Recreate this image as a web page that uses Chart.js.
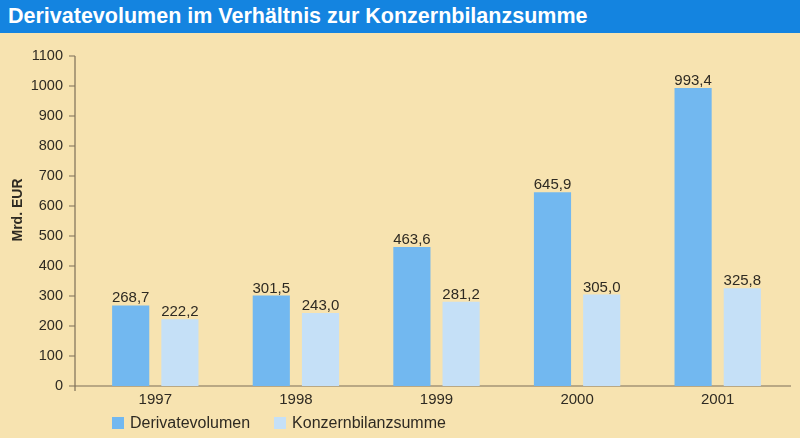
<!DOCTYPE html>
<html lang="de">
<head>
<meta charset="utf-8">
<title>Derivatevolumen im Verhältnis zur Konzernbilanzsumme</title>
<script src="https://cdn.jsdelivr.net/npm/chart.js@4.4.1/dist/chart.umd.min.js"></script>
<style>
    html, body { margin: 0; padding: 0; }
    body {
        width: 800px; height: 438px; position: relative; overflow: hidden;
        background: #f7e3b0;
        font-family: 'Liberation Sans', Arial, sans-serif;
    }
    #titlebar {
        position: absolute; left: 0; top: 0; width: 800px; height: 33px;
        box-sizing: border-box; padding-left: 8px;
        background: #1484e0; color: #fff;
        font-weight: bold; font-size: 21.5px; line-height: 33px; white-space: nowrap;
    }
    #wrap { position: absolute; left: 0; top: 0; width: 800px; height: 438px; }
    #legend {
        position: absolute; left: 112px; top: 414px;
        display: flex; gap: 24px; font-size: 16px; color: #2e2a22;
    }
    .item { display: flex; align-items: center; line-height: 18px; }
    .swatch { width: 12px; height: 12px; margin-right: 6px; }
</style>
</head>
<body>
<div id="titlebar">Derivatevolumen im Verhältnis zur Konzernbilanzsumme</div>
<div id="wrap"><canvas id="chart"></canvas></div>
<div id="legend"></div>

<script>
/* ==============================
   DATA
   ============================== */
const years = ['1997', '1998', '1999', '2000', '2001'];
const derivatevolumen = [268.7, 301.5, 463.6, 645.9, 993.4];
const konzernbilanzsumme = [222.2, 243.0, 281.2, 305.0, 325.8];
const seriesNames = ['Derivatevolumen', 'Konzernbilanzsumme'];

const TEXT_COLOR = '#2e2a22';
const AXIS_COLOR = '#7d6f58';
const FONT = "'Liberation Sans', Arial, sans-serif";
const COLORS = ['#72b8f0', '#c5e0f7'];

const fmt = v => v.toFixed(1).replace('.', ',');

// axis lines drawn a bit left of the plot area, like the print
const axisLines = {
    id: 'axisLines',
    beforeDatasetsDraw(chart) {
        const { ctx, chartArea, scales: { y } } = chart;
        const ax = chartArea.left - 10;
        ctx.save();
        ctx.strokeStyle = AXIS_COLOR;
        ctx.lineWidth = 1.2;
        ctx.beginPath();
        ctx.moveTo(ax, chartArea.top);
        ctx.lineTo(ax, chartArea.bottom + 5);
        y.ticks.forEach(t => {
            const py = y.getPixelForValue(t.value);
            ctx.moveTo(ax - 6, py);
            ctx.lineTo(ax, py);
        });
        ctx.moveTo(ax, chartArea.bottom);
        ctx.lineTo(chartArea.right + 3, chartArea.bottom);
        ctx.stroke();

        // y axis title
        ctx.translate(18, 210);
        ctx.rotate(-Math.PI / 2);
        ctx.fillStyle = TEXT_COLOR;
        ctx.font = 'bold 14px ' + FONT;
        ctx.textAlign = 'center';
        ctx.textBaseline = 'middle';
        ctx.fillText('Mrd. EUR', 0, 0);
        ctx.restore();
    }
};

// value labels above the bars
const valueLabels = {
    id: 'valueLabels',
    afterDatasetsDraw(chart) {
        const { ctx } = chart;
        ctx.save();
        ctx.fillStyle = TEXT_COLOR;
        ctx.font = '15px ' + FONT;
        ctx.textAlign = 'center';
        ctx.textBaseline = 'alphabetic';
        chart.data.datasets.forEach((ds, i) => {
            chart.getDatasetMeta(i).data.forEach((bar, j) => {
                ctx.fillText(fmt(ds.data[j]), bar.x, bar.y - 3);
            });
        });
        ctx.restore();
    }
};

const chart = new Chart(document.getElementById('chart'), {
    type: 'bar',
    data: {
        labels: years,
        datasets: [
            { label: seriesNames[0], data: derivatevolumen, backgroundColor: COLORS[0] },
            { label: seriesNames[1], data: konzernbilanzsumme, backgroundColor: COLORS[1] }
        ]
    },
    options: {
        responsive: true,
        maintainAspectRatio: false,
        animation: false,
        categoryPercentage: 0.70,
        barPercentage: 0.755,
        layout: { padding: { top: 56, right: 12, bottom: 22, left: 0 } },
        plugins: {
            legend: { display: false },
            tooltip: { enabled: false }
        },
        scales: {
            y: {
                min: 0,
                max: 1100,
                afterFit: s => { s.width = 85; },
                grid: { display: false, drawTicks: false },
                border: { display: false },
                ticks: {
                    stepSize: 100, padding: 22, color: TEXT_COLOR,
                    font: { family: FONT, size: 14.5 },
                    callback: v => String(v)
                }
            },
            x: {
                afterFit: s => { s.height = 30; },
                grid: { display: false, drawTicks: false },
                border: { display: false },
                ticks: { padding: 5, color: TEXT_COLOR, font: { family: FONT, size: 15 } }
            }
        }
    },
    plugins: [axisLines, valueLabels]
});

// legend built from the datasets
const legend = document.getElementById('legend');
chart.data.datasets.forEach(ds => {
    const item = document.createElement('div');
    item.className = 'item';
    item.innerHTML = '<span class="swatch" style="background:' + ds.backgroundColor + '"></span>' + ds.label;
    legend.appendChild(item);
});
</script>
</body>
</html>
